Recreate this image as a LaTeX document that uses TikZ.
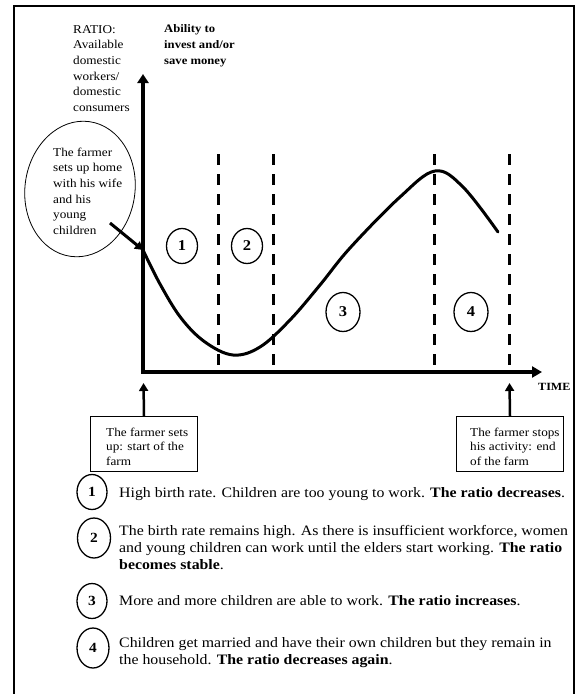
\documentclass[tikz,border=0pt]{standalone}
\usepackage{fontspec}
\setmainfont{Liberation Serif}[FakeStretch=1.1]
\usetikzlibrary{shapes.geometric,arrows.meta}
\begin{document}
\begin{tikzpicture}[x=1pt,y=-1pt,
  axis/.style={line width=3.5pt, line join=miter, {Triangle[length=9pt,width=11pt]}-{Triangle[length=10pt,width=11pt]}},
  divider/.style={line width=3pt, dash pattern=on 11pt off 9pt},
  curveline/.style={line width=3pt, line cap=round},
  stagenum/.style={draw, ellipse, line width=1.3pt, inner sep=0, minimum width=31, minimum height=35, font=\bfseries\fontsize{15}{15}\selectfont},
  listnum/.style={draw, ellipse, line width=1.3pt, inner sep=0, minimum width=30, minimum height=35, font=\bfseries\fontsize{14}{14}\selectfont},
  labeltext/.style={anchor=base west, align=left, inner sep=0, font=\fontsize{12}{15.7}\selectfont},
  boxtext/.style={anchor=base west, align=left, inner sep=0, font=\fontsize{12}{14.5}\selectfont},
  infobox/.style={draw, line width=1pt, minimum width=107, minimum height=55, anchor=north west, inner sep=0},
  pointer/.style={line width=2.5pt, -{Triangle[length=8pt,width=9pt]}},
  listtext/.style={anchor=base west, align=left, inner sep=0, font=\fontsize{14.4}{17}\selectfont},
]
\useasboundingbox (0,0) rectangle (580,694);
\draw[line width=1.2pt] (14,694) -- (14,6) -- (574,6) -- (574,694);

% axes
\coordinate (O) at (143,372);
\coordinate (ytop) at (143,74);
\coordinate (xend) at (542,372);
\draw[axis] (ytop) -- (O) -- (xend);

% axis labels (anchored at the baseline of the last line)
\node[labeltext] (ratio) at (73,111.5) {RATIO:\\Available\\domestic\\workers/\\domestic\\consumers};
\node[labeltext, font=\bfseries\fontsize{11.5}{16}\selectfont] (ability) at (164,64) {Ability to\\invest and/or\\save money};
\node[anchor=base west, inner sep=0, font=\bfseries\fontsize{11}{12}\selectfont] (time) at (538,390) {TIME};

% dividers
\foreach \x/\n in {218/a,273/b,434/c,509/d}{
  \coordinate (top\n) at (\x,154);
  \coordinate (bot\n) at (\x,372);
  \draw[divider] (top\n) -- (bot\n);
}

% curve
\coordinate (curvestart) at (143,250);
\draw[curveline] plot[smooth, tension=0.6] coordinates {(143,250) (160,284) (181,318) (205,342) (233,355) (260,347) (290,320) (320,285) (350,248) (400,197) (435,171) (463,187) (498,232)};

% stage numbers
\node[stagenum] (s1) at (182,246) {1};
\node[stagenum] (s2) at (247,246) {2};
\node[stagenum, minimum width=34, minimum height=39] (s3) at (343,312) {3};
\node[stagenum, minimum width=34, minimum height=39] (s4) at (471,312) {4};

% home ellipse
\node[draw, ellipse, line width=0.8pt, minimum width=110, minimum height=136, rotate=-8] (home) at (80,189) {};
\node[labeltext] (hometext) at (53,234.5) {The farmer\\sets up home\\with his wife\\and his\\young\\children};
\coordinate (homeend) at (110,223);
\draw[pointer, line width=3pt] (homeend) -- (curvestart);

% boxes
\node[infobox] (startbox) at (90,416) {};
\node[boxtext] (starttext) at (106,465) {The farmer sets\\up: start of the\\farm};
\coordinate (startarrow) at (143.5,383);
\draw[pointer] (startbox.north) -- (startarrow);

\node[infobox] (endbox) at (456,416) {};
\node[boxtext] (endtext) at (470,465) {The farmer stops\\his activity: end\\of the farm};
\coordinate (endarrow) at (509.5,383);
\draw[pointer] (endbox.north) -- (endarrow);

% legend
\node[listnum] (l1) at (92,492) {1};
\node[listtext] (t1) at (119,497) {High birth rate. Children are too young to work. \textbf{The ratio decreases}.};
\node[listnum, minimum width=33, minimum height=40] (l2) at (94,538) {2};
\node[listtext] (t2) at (119,569) {The birth rate remains high. As there is insufficient workforce, women\\and young children can work until the elders start working. \textbf{The ratio}\\\textbf{becomes stable}.};
\node[listnum] (l3) at (92,601) {3};
\node[listtext] (t3) at (119,605) {More and more children are able to work. \textbf{The ratio increases}.};
\node[listnum, minimum width=32, minimum height=40] (l4) at (93,648) {4};
\node[listtext] (t4) at (119,664) {Children get married and have their own children but they remain in\\the household. \textbf{The ratio decreases again}.};
\end{tikzpicture}
\end{document}
